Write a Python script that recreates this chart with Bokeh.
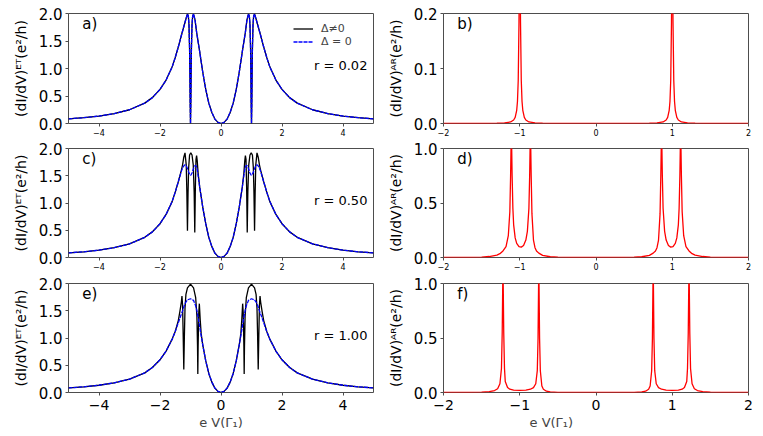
from bokeh.plotting import figure
from bokeh.models import (Range1d, FixedTicker, NumeralTickFormatter, CustomJSTickFormatter,
                          Label, Legend, LegendItem, Title)
from bokeh.layouts import column, row
from bokeh.embed import file_html
from bokeh.resources import INLINE

# ---------------- data ----------------
# panel a) r = 0.02, ET conductance
xa = [-5.0, -4.5, -4.0, -3.5, -3.0, -2.5, -2.25, -2.0, -1.8, -1.6, -1.5, -1.4, -1.3, -1.2, -1.15, -1.1,
      -1.07, -1.05, -1.03, -1.02, -1.01, -1.0, -0.99, -0.98, -0.97, -0.95, -0.93, -0.9, -0.85, -0.8,
      -0.7, -0.6, -0.5, -0.4, -0.3, -0.2, -0.1, 0.0, 0.1, 0.2, 0.3, 0.4, 0.5, 0.6, 0.7, 0.8, 0.85, 0.9,
      0.93, 0.95, 0.97, 0.98, 0.99, 1.0, 1.01, 1.02, 1.03, 1.05, 1.07, 1.1, 1.15, 1.2, 1.3, 1.4, 1.5,
      1.6, 1.8, 2.0, 2.25, 2.5, 3.0, 3.5, 4.0, 4.5, 5.0]
ya_delta = [0.085, 0.105, 0.135, 0.18, 0.25, 0.37, 0.47, 0.62, 0.79, 1.03, 1.20, 1.39, 1.60, 1.80, 1.90,
            1.99, 1.95, 1.80, 1.35, 0.90, 0.35, 0.0, 0.35, 0.90, 1.35, 1.80, 1.95, 1.99, 1.88, 1.66,
            1.31, 0.94, 0.62, 0.37, 0.20, 0.08, 0.02, 0.0, 0.02, 0.08, 0.20, 0.37, 0.62, 0.94, 1.31,
            1.66, 1.88, 1.99, 1.95, 1.80, 1.35, 0.90, 0.35, 0.0, 0.35, 0.90, 1.35, 1.80, 1.95, 1.99,
            1.90, 1.80, 1.60, 1.39, 1.20, 1.03, 0.79, 0.62, 0.47, 0.37, 0.25, 0.18, 0.135, 0.105, 0.085]
ya_zero = [0.085, 0.105, 0.135, 0.18, 0.25, 0.37, 0.47, 0.62, 0.79, 1.03, 1.20, 1.39, 1.60, 1.80, 1.90,
           1.99, 1.95, 1.80, 1.35, 0.90, 0.35, 0.0, 0.35, 0.90, 1.35, 1.80, 1.95, 1.99, 1.88, 1.66,
           1.31, 0.94, 0.62, 0.37, 0.20, 0.08, 0.02, 0.0, 0.02, 0.08, 0.20, 0.37, 0.62, 0.94, 1.31,
           1.66, 1.88, 1.99, 1.95, 1.80, 1.35, 0.90, 0.35, 0.0, 0.35, 0.90, 1.35, 1.80, 1.95, 1.99,
           1.90, 1.80, 1.60, 1.39, 1.20, 1.03, 0.79, 0.62, 0.47, 0.37, 0.25, 0.18, 0.135, 0.105, 0.085]

# panel c) r = 0.50
xc = [-5.0, -4.5, -4.0, -3.5, -3.0, -2.5, -2.25, -2.0, -1.8, -1.6, -1.5, -1.4, -1.3, -1.26, -1.22, -1.18,
      -1.14, -1.12, -1.1, -1.08, -1.06, -1.03, -0.99, -0.95, -0.91, -0.88, -0.86, -0.84, -0.82, -0.8,
      -0.78, -0.75, -0.7, -0.6, -0.5, -0.4, -0.3, -0.2, -0.1, 0.0, 0.1, 0.2, 0.3, 0.4, 0.5, 0.6, 0.7,
      0.75, 0.78, 0.8, 0.82, 0.84, 0.86, 0.88, 0.91, 0.95, 0.99, 1.03, 1.06, 1.08, 1.1, 1.12, 1.14,
      1.18, 1.22, 1.26, 1.3, 1.4, 1.5, 1.6, 1.8, 2.0, 2.25, 2.5, 3.0, 3.5, 4.0, 4.5, 5.0]
yc_delta = [0.085, 0.105, 0.135, 0.18, 0.25, 0.37, 0.47, 0.62, 0.79, 1.03, 1.20, 1.39, 1.60, 1.70, 1.84,
            1.92, 1.70, 1.20, 0.49, 1.20, 1.65, 1.88, 1.92, 1.88, 1.70, 1.20, 0.46, 1.30, 1.80, 1.87,
            1.78, 1.55, 1.30, 0.93, 0.62, 0.37, 0.20, 0.08, 0.02, 0.0, 0.02, 0.08, 0.20, 0.37, 0.62,
            0.93, 1.30, 1.55, 1.78, 1.87, 1.80, 1.30, 0.46, 1.20, 1.70, 1.88, 1.92, 1.88, 1.65, 1.20,
            0.49, 1.20, 1.70, 1.92, 1.84, 1.70, 1.60, 1.39, 1.20, 1.03, 0.79, 0.62, 0.47, 0.37, 0.25,
            0.18, 0.135, 0.105, 0.085]
yc_zero = [0.085, 0.105, 0.135, 0.18, 0.25, 0.37, 0.47, 0.62, 0.79, 1.03, 1.20, 1.39, 1.58, 1.64, 1.68,
           1.70, 1.68, 1.66, 1.63, 1.60, 1.57, 1.53, 1.51, 1.55, 1.62, 1.66, 1.68, 1.69, 1.68, 1.66,
           1.62, 1.50, 1.30, 0.93, 0.62, 0.37, 0.20, 0.08, 0.02, 0.0, 0.02, 0.08, 0.20, 0.37, 0.62,
           0.93, 1.30, 1.50, 1.62, 1.66, 1.68, 1.69, 1.68, 1.66, 1.62, 1.55, 1.51, 1.53, 1.57, 1.60,
           1.63, 1.66, 1.68, 1.70, 1.68, 1.64, 1.58, 1.39, 1.20, 1.03, 0.79, 0.62, 0.47, 0.37, 0.25,
           0.18, 0.135, 0.105, 0.085]

# panel e) r = 1.00
xe = [-5.0, -4.5, -4.0, -3.5, -3.0, -2.5, -2.25, -2.0, -1.8, -1.6, -1.5, -1.4, -1.35, -1.3, -1.28, -1.26,
      -1.24, -1.22, -1.2, -1.18, -1.15, -1.1, -1.0, -0.9, -0.83, -0.79, -0.77, -0.76, -0.75, -0.73,
      -0.71, -0.68, -0.65, -0.6, -0.5, -0.4, -0.3, -0.2, -0.1, 0.0, 0.1, 0.2, 0.3, 0.4, 0.5, 0.6, 0.65,
      0.68, 0.71, 0.73, 0.75, 0.76, 0.77, 0.79, 0.83, 0.9, 1.0, 1.1, 1.15, 1.18, 1.2, 1.22, 1.24, 1.26,
      1.28, 1.3, 1.35, 1.4, 1.5, 1.6, 1.8, 2.0, 2.25, 2.5, 3.0, 3.5, 4.0, 4.5, 5.0]
ye_delta = [0.084, 0.104, 0.133, 0.178, 0.245, 0.36, 0.46, 0.60, 0.76, 0.98, 1.12, 1.32, 1.48, 1.66,
            1.77, 1.60, 1.05, 0.42, 1.05, 1.55, 1.80, 1.92, 1.99, 1.92, 1.74, 1.40, 0.85, 0.34, 0.85,
            1.45, 1.63, 1.32, 1.08, 0.88, 0.58, 0.35, 0.19, 0.08, 0.02, 0.0, 0.02, 0.08, 0.19, 0.35,
            0.58, 0.88, 1.08, 1.32, 1.63, 1.45, 0.85, 0.34, 0.85, 1.40, 1.74, 1.92, 1.99, 1.92, 1.80,
            1.55, 1.05, 0.42, 1.05, 1.60, 1.77, 1.66, 1.48, 1.32, 1.12, 0.98, 0.76, 0.60, 0.46, 0.36,
            0.245, 0.178, 0.133, 0.104, 0.084]
ye_zero = [0.084, 0.104, 0.133, 0.178, 0.245, 0.36, 0.46, 0.60, 0.76, 0.98, 1.12, 1.28, 1.36, 1.44,
           1.47, 1.50, 1.53, 1.57, 1.60, 1.63, 1.66, 1.70, 1.72, 1.69, 1.59, 1.50, 1.44, 1.41, 1.38,
           1.32, 1.25, 1.14, 1.04, 0.88, 0.58, 0.35, 0.19, 0.08, 0.02, 0.0, 0.02, 0.08, 0.19, 0.35,
           0.58, 0.88, 1.04, 1.14, 1.25, 1.32, 1.38, 1.41, 1.44, 1.50, 1.59, 1.69, 1.72, 1.70, 1.66,
           1.63, 1.60, 1.57, 1.53, 1.50, 1.47, 1.44, 1.36, 1.28, 1.12, 0.98, 0.76, 0.60, 0.46, 0.36,
           0.245, 0.178, 0.133, 0.104, 0.084]

# panel b) r = 0.02, AR conductance
xb = [-2.0, -1.5, -1.3, -1.2, -1.12, -1.08, -1.06, -1.04, -1.03, -1.02, -1.01, -1.005, -1.0, -0.995,
      -0.99, -0.98, -0.97, -0.96, -0.94, -0.92, -0.88, -0.8, -0.7, -0.5, 0.0, 0.5, 0.7, 0.8, 0.88, 0.92,
      0.94, 0.96, 0.97, 0.98, 0.99, 0.995, 1.0, 1.005, 1.01, 1.02, 1.03, 1.04, 1.06, 1.08, 1.12, 1.2,
      1.3, 1.5, 2.0]
yb = [0.0001, 0.00016, 0.0005, 0.001, 0.0028, 0.0064, 0.011, 0.024, 0.040, 0.078, 0.184, 0.28, 0.34,
      0.28, 0.184, 0.078, 0.040, 0.024, 0.011, 0.0064, 0.0028, 0.001, 0.0005, 0.00016, 0.0001, 0.00016,
      0.0005, 0.001, 0.0028, 0.0064, 0.011, 0.024, 0.040, 0.078, 0.184, 0.28, 0.34, 0.28, 0.184, 0.078,
      0.040, 0.024, 0.011, 0.0064, 0.0028, 0.001, 0.0005, 0.00016, 0.0001]

# panel d) r = 0.50
xd = [-2.0, -1.7, -1.5, -1.4, -1.3, -1.26, -1.22, -1.18, -1.15, -1.13, -1.12, -1.11, -1.1, -1.09, -1.08,
      -1.06, -1.04, -1.01, -0.98, -0.95, -0.92, -0.9, -0.88, -0.87, -0.86, -0.85, -0.84, -0.82, -0.8,
      -0.78, -0.75, -0.7, -0.6, -0.5, -0.3, 0.0, 0.3, 0.5, 0.6, 0.7, 0.75, 0.78, 0.8, 0.82, 0.84, 0.85,
      0.86, 0.87, 0.88, 0.9, 0.92, 0.95, 0.98, 1.01, 1.04, 1.06, 1.08, 1.09, 1.1, 1.11, 1.12, 1.13,
      1.15, 1.18, 1.22, 1.26, 1.3, 1.4, 1.5, 1.7, 2.0]
yd = [0.0005, 0.001, 0.004, 0.009, 0.022, 0.035, 0.06, 0.10, 0.20, 0.42, 0.75, 1.2, 0.75, 0.45, 0.30,
      0.18, 0.13, 0.10, 0.095, 0.11, 0.16, 0.24, 0.45, 0.75, 1.2, 0.75, 0.40, 0.16, 0.09, 0.06, 0.04,
      0.02, 0.007, 0.003, 0.001, 0.0005, 0.001, 0.003, 0.007, 0.02, 0.04, 0.06, 0.09, 0.16, 0.40, 0.75,
      1.2, 0.75, 0.45, 0.24, 0.16, 0.11, 0.095, 0.10, 0.13, 0.18, 0.30, 0.45, 0.75, 1.2, 0.75, 0.42,
      0.20, 0.10, 0.06, 0.035, 0.022, 0.009, 0.004, 0.001, 0.0005]

# panel f) r = 1.00
xf = [-2.0, -1.7, -1.5, -1.4, -1.33, -1.29, -1.26, -1.24, -1.23, -1.22, -1.21, -1.2, -1.19, -1.16, -1.13,
      -1.08, -1.0, -0.92, -0.86, -0.82, -0.79, -0.77, -0.76, -0.75, -0.74, -0.73, -0.71, -0.69, -0.65,
      -0.6, -0.5, -0.3, 0.0, 0.3, 0.5, 0.6, 0.65, 0.69, 0.71, 0.73, 0.74, 0.75, 0.76, 0.77, 0.79, 0.82,
      0.86, 0.92, 1.0, 1.08, 1.13, 1.16, 1.19, 1.2, 1.21, 1.22, 1.23, 1.24, 1.26, 1.29, 1.33, 1.4, 1.5,
      1.7, 2.0]
yf = [0.0003, 0.001, 0.003, 0.008, 0.018, 0.035, 0.08, 0.22, 0.55, 1.2, 0.55, 0.22, 0.10, 0.045, 0.03,
      0.022, 0.02, 0.022, 0.03, 0.045, 0.08, 0.2, 0.5, 1.2, 0.5, 0.2, 0.06, 0.03, 0.012, 0.006, 0.002,
      0.0005, 0.0003, 0.0005, 0.002, 0.006, 0.012, 0.03, 0.06, 0.2, 0.5, 1.2, 0.5, 0.2, 0.08, 0.045,
      0.03, 0.022, 0.02, 0.022, 0.03, 0.045, 0.10, 0.22, 0.55, 1.2, 0.55, 0.22, 0.08, 0.035, 0.018,
      0.008, 0.003, 0.001, 0.0003]

et_ticks_x = [-4, -2, 0, 2, 4]
ar_ticks_x = [-2, -1, 0, 1, 2]
et_ticks_y = [0.0, 0.5, 1.0, 1.5, 2.0]
b_ticks_y = [0.0, 0.1, 0.2]
df_ticks_y = [0.0, 0.5, 1.0]
panel_labels = ["a)", "b)", "c)", "d)", "e)", "f)"]
r_labels = ["r = 0.02", "r = 0.50", "r = 1.00"]
legend_labels = ["Δ≠0", "Δ = 0"]
ylabel_et = "(dI/dV)ᴱᵀ(e²/h)"
ylabel_ar = "(dI/dV)ᴬᴿ(e²/h)"
xlabel = "e V(Γ₁)"

# ---------------- styling / layout ----------------
FONT = "DejaVu Sans"
FRAME = "#4d4d4d"
BLACK = "#000000"
BLUE = "#0000ff"
RED = "#ff0000"

minus_fmt = CustomJSTickFormatter(code="return tick < 0 ? '\u2212' + Math.abs(tick) : String(tick);")


def make_fig(xr, yr, xticks, yticks, width, height, bl, br, bt, bb, ylabel, xtick_size, xstandoff):
    p = figure(width=width, height=height, x_range=Range1d(*xr), y_range=Range1d(*yr),
               output_backend="svg", toolbar_location=None,
               min_border_left=bl, min_border_right=br, min_border_top=bt, min_border_bottom=bb)
    p.grid.visible = False
    p.outline_line_color = FRAME
    p.outline_line_width = 1
    p.background_fill_color = "white"
    p.border_fill_color = "white"
    for ax in (p.xaxis[0], p.yaxis[0]):
        ax.axis_line_color = None
        ax.major_tick_line_color = FRAME
        ax.major_tick_in = 0
        ax.major_tick_out = 3
        ax.minor_tick_line_color = None
        ax.major_label_text_font = FONT
        ax.major_label_text_color = "black"
        ax.axis_label_text_font = FONT
        ax.axis_label_text_font_style = "normal"
        ax.axis_label_text_color = "black"
    p.xaxis.ticker = FixedTicker(ticks=xticks)
    p.yaxis.ticker = FixedTicker(ticks=yticks)
    p.xaxis.formatter = minus_fmt
    p.yaxis.formatter = NumeralTickFormatter(format="0.0")
    p.xaxis.major_label_text_font_size = xtick_size
    p.xaxis.major_label_standoff = xstandoff
    p.yaxis.major_label_text_font_size = "15px"
    p.yaxis.major_label_standoff = 3
    p.yaxis.axis_label = ylabel
    p.yaxis.axis_label_text_font_size = "14px"
    p.yaxis.axis_label_standoff = 7
    return p


LW, RW = 383, 372
H1, H2, H3 = 139, 134, 159

fa = make_fig((-5, 5), (0, 2), et_ticks_x, et_ticks_y, LW, H1, 68, 10, 13, 16, ylabel_et, "8px", 2)
fb = make_fig((-2, 2), (0, 0.2), ar_ticks_x, b_ticks_y, RW, H1, 60, 7, 13, 16, ylabel_ar, "8px", 2)
fc = make_fig((-5, 5), (0, 2), et_ticks_x, et_ticks_y, LW, H2, 68, 10, 9, 16, ylabel_et, "8px", 2)
fd = make_fig((-2, 2), (0, 1), ar_ticks_x, df_ticks_y, RW, H2, 60, 7, 9, 16, ylabel_ar, "8px", 2)
fe = make_fig((-5, 5), (0, 2), et_ticks_x, et_ticks_y, LW, H3, 68, 10, 10, 40, ylabel_et, "14px", 4)
ff = make_fig((-2, 2), (0, 1), ar_ticks_x, df_ticks_y, RW, H3, 60, 7, 10, 40, ylabel_ar, "14px", 4)

# x labels as titles below the bottom axes (right one sits left of centre, as in the reference)
fe.add_layout(Title(text=xlabel, align="center", text_font=FONT, text_font_size="13px",
                    text_font_style="normal", standoff=0), "below")
ff.add_layout(Title(text=xlabel, align="left", offset=86, text_font=FONT, text_font_size="13px",
                    text_font_style="normal", standoff=0), "below")

# ET panels: black solid (Δ≠0) + blue dashed (Δ=0)
ra1 = fa.line(xa, ya_delta, line_color=BLACK, line_width=1.3)
ra2 = fa.line(xa, ya_zero, line_color=BLUE, line_width=1.3, line_dash="4 1")
fc.line(xc, yc_delta, line_color=BLACK, line_width=1.3)
fc.line(xc, yc_zero, line_color=BLUE, line_width=1.3, line_dash="4 1")
fe.line(xe, ye_delta, line_color=BLACK, line_width=1.3)
fe.line(xe, ye_zero, line_color=BLUE, line_width=1.3, line_dash="4 1")

# AR panels: red
fb.line(xb, yb, line_color=RED, line_width=1.3)
fd.line(xd, yd, line_color=RED, line_width=1.3)
ff.line(xf, yf, line_color=RED, line_width=1.3)

# legend in a)
leg = Legend(items=[LegendItem(label=legend_labels[0], renderers=[ra1]),
                    LegendItem(label=legend_labels[1], renderers=[ra2])],
             location=(225, 75), border_line_color=None, background_fill_alpha=0,
             label_text_font=FONT, label_text_font_size="11px", glyph_width=20, glyph_height=11,
             label_height=11, spacing=0, padding=3, label_standoff=8, margin=0)
fa.add_layout(leg)

# panel letters
for p, lab, x, y in [(fa, panel_labels[0], -4.55, 1.98), (fb, panel_labels[1], -1.82, 0.198),
                     (fc, panel_labels[2], -4.55, 1.98), (fd, panel_labels[3], -1.82, 0.99),
                     (fe, panel_labels[4], -4.55, 1.98), (ff, panel_labels[5], -1.82, 0.99)]:
    p.add_layout(Label(x=x, y=y, text=lab, text_font=FONT, text_font_size="15px",
                       text_baseline="top", text_align="left", text_color="black"))

# r values
for p, lab in [(fa, r_labels[0]), (fc, r_labels[1]), (fe, r_labels[2])]:
    p.add_layout(Label(x=4.8, y=1.05, text=lab, text_font=FONT, text_font_size="13px",
                       text_baseline="middle", text_align="right", text_color="black"))

layout = column(row(fa, fb), row(fc, fd), row(fe, ff))

open("out.html", "w").write(file_html(layout, INLINE))
